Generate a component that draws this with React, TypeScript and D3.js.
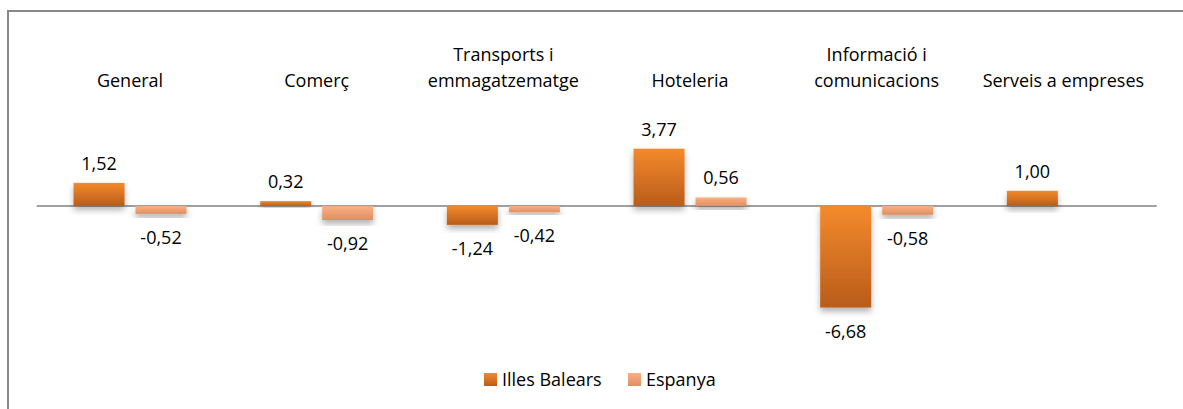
import React from "react";
import * as d3 from "d3";

const categories: string[][] = [
  ["General"],
  ["Comerç"],
  ["Transports i", "emmagatzematge"],
  ["Hoteleria"],
  ["Informació i", "comunicacions"],
  ["Serveis a empreses"],
];
const seriesNames = ["Illes Balears", "Espanya"];
const illesBalears: (number | null)[] = [1.52, 0.32, -1.24, 3.77, -6.68, 1.0];
const espanya: (number | null)[] = [-0.52, -0.92, -0.42, 0.56, -0.58, null];
const seriesValues = [illesBalears, espanya];

const W = 1183;
const H = 409;
const FONT = "'Open Sans', sans-serif";
const fmt = (v: number) => v.toFixed(2).replace(".", ",");

export default function App() {
  const catKeys = categories.map((c) => c.join(" "));
  const x0 = d3.scaleBand<string>().domain(catKeys).range([36.7, 1156.7]).paddingInner(0).paddingOuter(0);
  const x1 = d3
    .scaleBand<string>()
    .domain(seriesNames)
    .range([0, x0.bandwidth()])
    .paddingInner(0.177)
    .paddingOuter(0.594);
  const pxPerUnit = 15.2;
  const zeroY = 206;
  const y = d3.scaleLinear().domain([0, 1]).range([zeroY, zeroY - pxPerUnit]);
  const gradIds = ["gradIB", "gradES"];

  return (
    <svg
      width={W}
      height={H}
      style={{ position: "absolute", left: 0, top: 0, background: "#fff" }}
      fontFamily={FONT}
    >
      <defs>
        <linearGradient id="gradIB" x1="0" y1="0" x2="0" y2="1">
          <stop offset="0%" stopColor="#F38A2C" />
          <stop offset="100%" stopColor="#B95C1B" />
        </linearGradient>
        <linearGradient id="gradES" x1="0" y1="0" x2="0" y2="1">
          <stop offset="0%" stopColor="#FBAF82" />
          <stop offset="100%" stopColor="#DE9064" />
        </linearGradient>
        <filter id="shadow" x="-20%" y="-20%" width="140%" height="160%">
          <feDropShadow dx="0" dy="4" stdDeviation="3" floodColor="#000" floodOpacity="0.3" />
        </filter>
      </defs>
      <rect x={0} y={0} width={W} height={H} fill="#fff" />
      <rect x={8} y={11} width={W + 20} height={H + 20} fill="none" stroke="#888" strokeWidth={2} />

      {categories.map((lines, i) => {
        const cx = (x0(catKeys[i]) as number) + x0.bandwidth() / 2;
        return (
          <text key={i} textAnchor="middle" fontSize={18} fill="#000">
            {lines.map((ln, j) => (
              <tspan key={j} x={cx} y={87 - (lines.length - 1 - j) * 26}>
                {ln}
              </tspan>
            ))}
          </text>
        );
      })}

      <line x1={36.7} x2={1156.7} y1={zeroY} y2={zeroY} stroke="#A0A0A0" strokeWidth={2} />

      {seriesValues.map((vals, s) =>
        vals.map((v, i) => {
          if (v === null) return null;
          const bx = (x0(catKeys[i]) as number) + (x1(seriesNames[s]) as number);
          const top = Math.min(y(v), y(0));
          const h = Math.abs(y(v) - y(0));
          return (
            <rect
              key={`${s}-${i}`}
              x={bx}
              y={top}
              width={x1.bandwidth()}
              height={h}
              fill={`url(#${gradIds[s]})`}
              filter="url(#shadow)"
            />
          );
        })
      )}

      {seriesValues.map((vals, s) =>
        vals.map((v, i) => {
          if (v === null) return null;
          const cx = (x0(catKeys[i]) as number) + (x1(seriesNames[s]) as number) + x1.bandwidth() / 2;
          const ly = v >= 0 ? y(v) - 13 : y(v) + 30;
          return (
            <text key={`l${s}-${i}`} x={cx} y={ly} textAnchor="middle" fontSize={18} fill="#000">
              {fmt(v)}
            </text>
          );
        })
      )}

      {seriesNames.map((name, s) => {
        const lx = [484, 628][s];
        return (
          <g key={name}>
            <rect x={lx} y={373} width={13} height={13} fill={`url(#${gradIds[s]})`} />
            <text x={lx + 18} y={386} fontSize={18} fill="#000">
              {name}
            </text>
          </g>
        );
      })}
    </svg>
  );
}
